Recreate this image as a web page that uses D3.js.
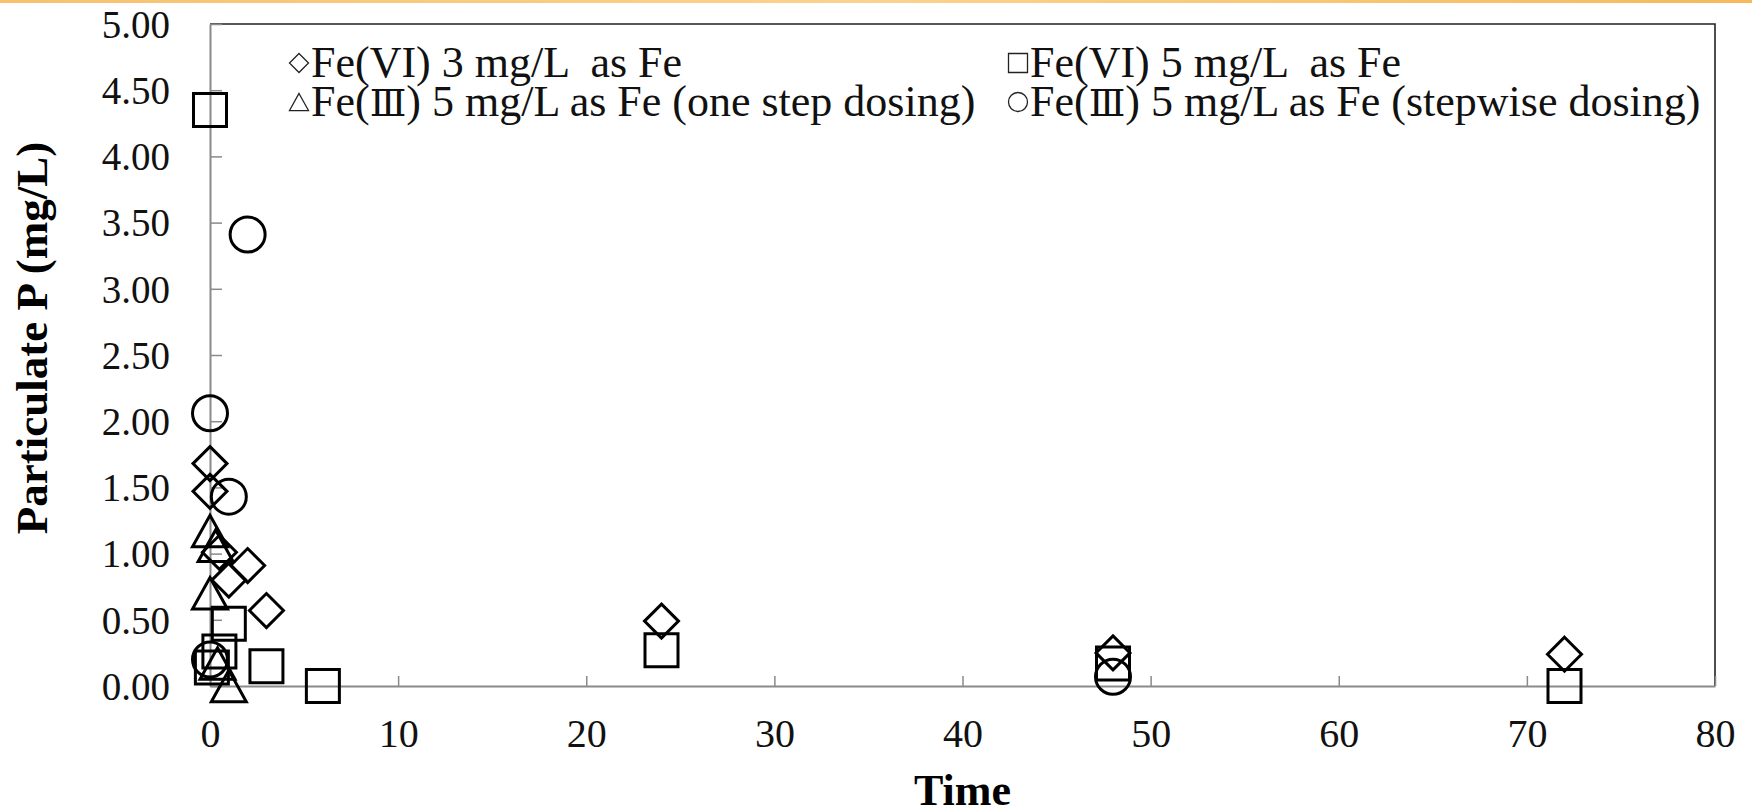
<!DOCTYPE html>
<html>
<head>
<meta charset="utf-8">
<script src="https://cdn.jsdelivr.net/npm/d3@7"></script>
<style>
  body { margin: 0; background: #fff; }
  svg { display: block; }
</style>
</head>
<body>
<svg id="chart" width="1752" height="812"></svg>
<script>
// series values (time in h, particulate P in mg/L)
var fe6_3_time  = [0, 0, 0.5, 1, 2, 3, 24, 48, 72];
var fe6_3_value = [1.68, 1.47, 1.01, 0.80, 0.91, 0.57, 0.49, 0.25, 0.24];

var fe6_5_time  = [0, 0.1, 0.5, 1, 3, 6, 24, 48, 72];
var fe6_5_value = [4.35, 0.14, 0.26, 0.47, 0.15, 0.00, 0.27, 0.17, 0.00];

var fe3_one_time  = [0, 0.3, 0, 0.4, 1];
var fe3_one_value = [1.17, 1.06, 0.70, 0.17, 0.00];

var fe3_step_time  = [0, 1, 2, 0, 48];
var fe3_step_value = [2.06, 1.43, 3.41, 0.20, 0.07];

var xTicks = [0, 10, 20, 30, 40, 50, 60, 70, 80];
var yTicks = [0, 0.5, 1, 1.5, 2, 2.5, 3, 3.5, 4, 4.5, 5];

// legend labels split around the roman numeral glyph
var legendLabels = [
  ['Fe(VI) 3 mg/L  as Fe'],
  ['Fe(VI) 5 mg/L  as Fe'],
  ['Fe(', '\u2162', ') 5 mg/L as Fe (one step dosing)'],
  ['Fe(', '\u2162', ') 5 mg/L as Fe (stepwise dosing)']
];
var xTitle = 'Time';
var yTitle = 'Particulate P (mg/L)';

var self = this;
self.margin = { left: 210, right: 1715, top: 24, bottom: 686 };
self.serif = '"Liberation Serif", "Times New Roman", serif';

var svg = d3.select('#chart');
var x = d3.scaleLinear().domain([0, 80]).range([self.margin.left, self.margin.right]);
var y = d3.scaleLinear().domain([0, 5]).range([self.margin.bottom, self.margin.top]);

// marker shapes, r = half width
function diamondPath(r) { return 'M0,' + (-r) + 'L' + r + ',0L0,' + r + 'L' + (-r) + ',0Z'; }
function squarePath(r) { return 'M' + (-r) + ',' + (-r) + 'H' + r + 'V' + r + 'H' + (-r) + 'Z'; }
function trianglePath(r) { var h = r * 1.8; return 'M0,' + (-h / 2) + 'L' + r + ',' + (h / 2) + 'H' + (-r) + 'Z'; }
function circlePath(r) { return d3.arc()({ innerRadius: 0, outerRadius: r, startAngle: 0, endAngle: 2 * Math.PI }); }

var series = [
  { t: fe6_3_time, v: fe6_3_value, shape: diamondPath, r: 17 },
  { t: fe6_5_time, v: fe6_5_value, shape: squarePath, r: 16.5 },
  { t: fe3_one_time, v: fe3_one_value, shape: trianglePath, r: 17.5 },
  { t: fe3_step_time, v: fe3_step_value, shape: circlePath, r: 17.5 }
];

drawBackground();
drawAxes();
drawMarkers();
drawLegend();
drawTitles();

function drawBackground() {
  var grad = svg.append('defs').append('linearGradient').attr('id', 'topband');
  grad.append('stop').attr('offset', '0%').attr('stop-color', '#f7c16f');
  grad.append('stop').attr('offset', '50%').attr('stop-color', '#fbd38e');
  grad.append('stop').attr('offset', '100%').attr('stop-color', '#f6b95c');
  svg.append('rect').attr('width', 1752).attr('height', 812).attr('fill', '#fff');
  svg.append('rect').attr('width', 1752).attr('height', 3).attr('fill', 'url(#topband)');
}

function drawAxes() {
  // top and right frame
  svg.append('path')
    .attr('d', 'M' + self.margin.left + ',' + self.margin.top + 'H' + self.margin.right + 'V' + self.margin.bottom)
    .attr('fill', 'none')
    .style('stroke', '#222')
    .style('stroke-width', 1.6);

  var xAxis = svg.append('g')
    .attr('transform', 'translate(0,' + self.margin.bottom + ')')
    .call(d3.axisBottom(x).tickValues(xTicks).tickSizeInner(-10).tickSizeOuter(0).tickPadding(61));
  var yAxis = svg.append('g')
    .attr('transform', 'translate(' + self.margin.left + ',0)')
    .call(d3.axisLeft(y).tickValues(yTicks).tickSizeInner(-12).tickSizeOuter(0).tickPadding(40).tickFormat(d3.format('.2f')));

  [xAxis, yAxis].forEach(function(a) {
    a.attr('font-family', self.serif);
    a.select('.domain').style('stroke', '#8a8a8a').style('stroke-width', 2);
    a.selectAll('.tick line').style('stroke', '#8a8a8a').style('stroke-width', 1.5);
    a.selectAll('.tick text')
      .attr('font-size', 39)
      .style('font-family', self.serif)
      .style('fill', '#111');
  });
  xAxis.selectAll('.tick text').attr('dy', '0').attr('font-size', 40);
  yAxis.selectAll('.tick text').attr('dy', '0.34em');
}

function drawMarkers() {
  series.forEach(function(s) {
    svg.append('g').selectAll('path')
      .data(s.t.map(function(t, i) { return { t: t, v: s.v[i] }; }))
      .enter().append('path')
      .attr('d', s.shape(s.r))
      .attr('transform', function(d) { return 'translate(' + x(d.t) + ',' + y(d.v) + ')'; })
      .attr('fill', 'none')
      .style('stroke', '#000')
      .style('stroke-width', 3);
  });
}

function drawLegend() {
  var shapes = [diamondPath, squarePath, trianglePath, circlePath];
  var colX = [299, 1018];
  var rowY = [77, 116];
  legendLabels.forEach(function(parts, i) {
    var cx = colX[i % 2], by = rowY[Math.floor(i / 2)];
    svg.append('path')
      .attr('d', shapes[i](9.5))
      .attr('transform', 'translate(' + cx + ',' + (by - 14) + ')')
      .attr('fill', 'none')
      .style('stroke', '#222')
      .style('stroke-width', 1.3);
    var t = svg.append('text')
      .attr('x', cx + 12)
      .attr('y', by)
      .attr('font-size', 44)
      .style('font-family', self.serif)
      .style('fill', '#111')
      .style('white-space', 'pre');
    parts.forEach(function(p, j) {
      var span = t.append('tspan').text(p);
      if (p === '\u2162') span.style('font-family', '"DejaVu Serif", serif').attr('font-size', 38);
    });
  });
}

function drawTitles() {
  svg.append('text')
    .attr('x', (self.margin.left + self.margin.right) / 2)
    .attr('y', 805)
    .attr('text-anchor', 'middle')
    .style('font-family', self.serif)
    .attr('font-weight', 'bold')
    .attr('font-size', 44)
    .text(xTitle);
  svg.append('text')
    .attr('transform', 'translate(47,338) rotate(-90)')
    .attr('text-anchor', 'middle')
    .style('font-family', self.serif)
    .attr('font-weight', 'bold')
    .attr('font-size', 45)
    .text(yTitle);
}
</script>
</body>
</html>
